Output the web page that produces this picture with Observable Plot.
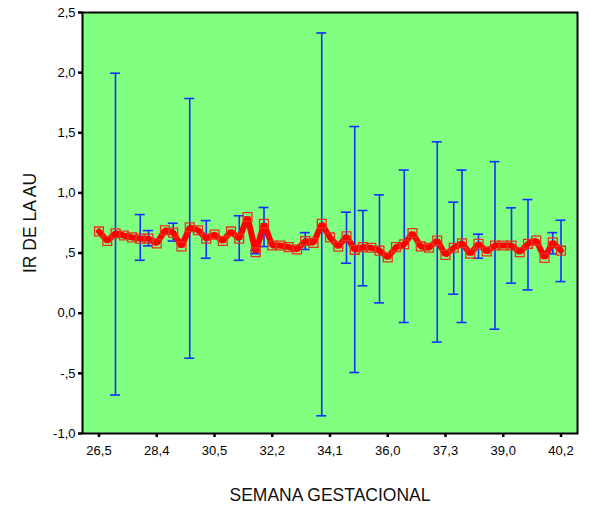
<!DOCTYPE html>
<html>
<head>
<meta charset="utf-8">
<script src="https://cdn.jsdelivr.net/npm/d3@7"></script>
<script src="https://cdn.jsdelivr.net/npm/@observablehq/plot@0.6"></script>
<style>
  html, body { margin: 0; padding: 0; background: #fff; }
</style>
</head>
<body>
<div id="chart"></div>
<script>
// Gestational week categories (only every 7th is labelled on the axis)
const semanas = [
  "26,5","26,6","26,8","27,0","27,3","27,6","28,0",
  "28,4","28,6","28,9","29,2","29,5","29,8","30,2",
  "30,5","30,7","31,0","31,2","31,5","31,7","32,0",
  "32,2","32,4","32,6","32,9","33,1","33,4","33,7",
  "34,1","34,3","34,6","34,9","35,1","35,4","35,7",
  "36,0","36,2","36,4","36,6","36,8","37,0","37,1",
  "37,3","37,5","37,7","38,0","38,2","38,5","38,7",
  "39,0","39,1","39,3","39,4","39,6","39,8","40,0",
  "40,2"
];
// Mean IR de la AU per category
const mediaIR = [
  0.68,0.60,0.665,0.646,0.63,0.62,0.62,
  0.58,0.69,0.67,0.555,0.715,0.69,0.62,
  0.654,0.60,0.68,0.62,0.80,0.507,0.743,
  0.563,0.563,0.55,0.53,0.60,0.585,0.743,
  0.63,0.553,0.64,0.527,0.55,0.544,0.52,
  0.463,0.55,0.573,0.667,0.555,0.544,0.604,
  0.485,0.544,0.582,0.494,0.577,0.513,0.563,
  0.563,0.563,0.507,0.577,0.604,0.46,0.59,
  0.52
];
// Error bars (only categories with more than one case)
const errSemana = ["26,8","27,6","28,0","28,9","29,5","30,2","31,2","31,7","32,0","33,1","33,7","34,6","34,9","35,1","35,7","36,4","37,1","37,5","37,7","38,2","38,7","39,1","39,4","40,0","40,2"];
const errBajo   = [-0.68, 0.44, 0.56, 0.60, -0.374, 0.457, 0.44, 0.495, 0.554, 0.53, -0.853, 0.416, -0.493, 0.228, 0.086, -0.077, -0.24, 0.158, -0.077, 0.457, -0.133, 0.25, 0.194, 0.494, 0.263];
const errAlto   = [1.995, 0.82, 0.687, 0.748, 1.785, 0.77, 0.81, 0.52, 0.879, 0.67, 2.33, 0.84, 1.552, 0.854, 0.984, 1.19, 1.425, 0.923, 1.19, 0.657, 1.26, 0.876, 0.945, 0.67, 0.773];
// Axis ticks
const xTicks = ["26,5","28,4","30,5","32,2","34,1","36,0","37,3","39,0","40,2"];
const yTicks = [-1, -0.5, 0, 0.5, 1, 1.5, 2, 2.5];

const serie = semanas.map((s, i) => ({semana: s, ir: mediaIR[i]}));
const errores = errSemana.map((s, i) => ({semana: s, lo: errBajo[i], hi: errAlto[i]}));

function fmtSPSS(v) {
  if (v === 0) return "0,0";
  const s = Math.abs(v).toFixed(1).replace(".", ",");
  const t = s.startsWith("0,") ? s.slice(1) : s;
  return (v < 0 ? "-" : "") + t;
}

const blue = "#1030ff";
const red = "#ff0000";

const chart = Plot.plot({
  width: 590,
  height: 511,
  marginLeft: 82,
  marginRight: 13,
  marginTop: 12,
  marginBottom: 78,
  style: {fontFamily: "'Liberation Sans', Arial, sans-serif", fontSize: "13px", color: "#000", background: "#fff"},
  x: {type: "point", domain: semanas, padding: 2, round: false},
  y: {domain: [-1, 2.5]},
  marks: [
    Plot.frame({fill: "#80ff80"}),
    Plot.ruleX(errores, {x: "semana", y1: "lo", y2: "hi", stroke: blue, strokeWidth: 1.6}),
    Plot.ruleY(errores, {x1: "semana", x2: "semana", y: "lo", stroke: blue, strokeWidth: 1.6, insetLeft: -5, insetRight: -5}),
    Plot.ruleY(errores, {x1: "semana", x2: "semana", y: "hi", stroke: blue, strokeWidth: 1.6, insetLeft: -5, insetRight: -5}),
    Plot.line(serie, {x: "semana", y: "ir", stroke: red, strokeWidth: 6, strokeLinejoin: "miter"}),
    Plot.dot(serie, {x: "semana", y: "ir", symbol: "square", r: 5, stroke: "#e8301c", fill: "none", strokeWidth: 1.3}),
    Plot.frame({stroke: "#000", strokeWidth: 2}),
    Plot.axisX({ticks: xTicks, tickSize: 4, strokeWidth: 2.5, tickPadding: 8, label: null, fontSize: 13}),
    Plot.axisY({ticks: yTicks, tickSize: 4, strokeWidth: 2.5, tickPadding: 3, tickFormat: fmtSPSS, label: null, fontSize: 13}),
    Plot.text(["SEMANA GESTACIONAL"], {frameAnchor: "bottom", lineAnchor: "middle", textAnchor: "middle", dy: 62, fontSize: 17.5, fill: "#111"}),
    Plot.text(["IR DE LA AU"], {frameAnchor: "left", lineAnchor: "middle", textAnchor: "middle", dx: -52, rotate: -90, fontSize: 17.5, fill: "#111"})
  ]
});
document.getElementById("chart").appendChild(chart);
</script>
</body>
</html>
